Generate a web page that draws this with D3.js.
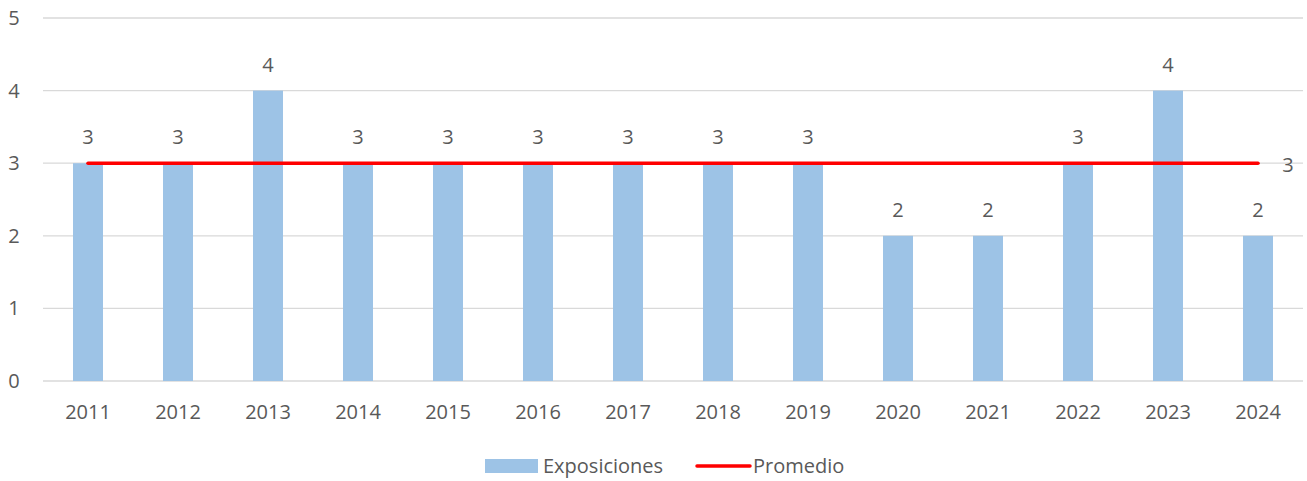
<!DOCTYPE html>
<html><head><meta charset="utf-8">
<script src="https://cdn.jsdelivr.net/npm/d3@7"></script>
<style>
html,body{margin:0;padding:0;background:#fff;}
text{font-family:"Open Sans",sans-serif;fill:#595959;}
</style></head>
<body>
<svg id="chart" width="1307" height="481"></svg>
<script>
const years = ["2011","2012","2013","2014","2015","2016","2017","2018","2019","2020","2021","2022","2023","2024"];
const exposiciones = [3,3,4,3,3,3,3,3,3,2,2,3,4,2];
const promedio = [3,3,3,3,3,3,3,3,3,3,3,3,3,3];
const yTicks = [0,1,2,3,4,5];
const seriesNames = ["Exposiciones","Promedio"];

const svg = d3.select("#chart");
const m = {left:43, right:4, top:18, bottom:100};
const W = 1307, H = 481;
const x = d3.scaleBand().domain(years).range([m.left, W - m.right]).paddingInner(2/3).paddingOuter(1/3);
const y = d3.scaleLinear().domain([0,5]).range([381, 18]);
const fs = 20;

// gridlines
svg.append("g").selectAll("line").data(yTicks).join("line")
  .attr("x1", m.left).attr("x2", W - m.right)
  .attr("y1", d => y(d)).attr("y2", d => y(d))
  .attr("stroke", "#d9d9d9").attr("stroke-width", 1.3);

// y tick labels
svg.append("g").selectAll("text").data(yTicks).join("text")
  .attr("x", 14).attr("y", d => y(d)).attr("dy", "0.35em")
  .attr("text-anchor", "middle").attr("font-size", fs).text(d => d);

// bars
svg.append("g").selectAll("rect").data(years).join("rect")
  .attr("x", d => x(d)).attr("width", x.bandwidth())
  .attr("y", (d,i) => y(exposiciones[i])).attr("height", (d,i) => y(0) - y(exposiciones[i]))
  .attr("fill", "#9dc3e6");

// bar labels
svg.append("g").selectAll("text").data(years).join("text")
  .attr("x", d => x(d) + x.bandwidth()/2)
  .attr("y", (d,i) => y(exposiciones[i]) - 26).attr("dy", "0.35em")
  .attr("text-anchor", "middle").attr("font-size", fs).text((d,i) => exposiciones[i]);

// x tick labels
svg.append("g").selectAll("text").data(years).join("text")
  .attr("x", d => x(d) + x.bandwidth()/2).attr("y", 412).attr("dy", "0.35em")
  .attr("text-anchor", "middle").attr("font-size", fs).text(d => d);

// average line
const cx = d => x(d) + x.bandwidth()/2;
const line = d3.line().x((d,i) => cx(years[i])).y(d => y(d));
svg.append("path").datum(promedio).attr("d", line)
  .attr("fill", "none").attr("stroke", "#ff0000").attr("stroke-width", 3.5).attr("stroke-linecap", "round");

// average label at end
const last = promedio.length - 1;
svg.append("text").attr("x", cx(years[last]) + 30).attr("y", y(promedio[last]) + 2).attr("dy", "0.35em")
  .attr("text-anchor", "middle").attr("font-size", fs).text(promedio[last]);

// legend
const lg = svg.append("g");
lg.append("rect").attr("x", 485).attr("y", 459).attr("width", 53).attr("height", 14).attr("fill", "#9dc3e6");
lg.append("text").attr("x", 543).attr("y", 466).attr("dy", "0.35em").attr("font-size", fs).text(seriesNames[0]);
lg.append("line").attr("x1", 697).attr("x2", 750).attr("y1", 466).attr("y2", 466)
  .attr("stroke", "#ff0000").attr("stroke-width", 3.5).attr("stroke-linecap", "round");
lg.append("text").attr("x", 753).attr("y", 466).attr("dy", "0.35em").attr("font-size", fs).text(seriesNames[1]);
</script>
</body></html>
